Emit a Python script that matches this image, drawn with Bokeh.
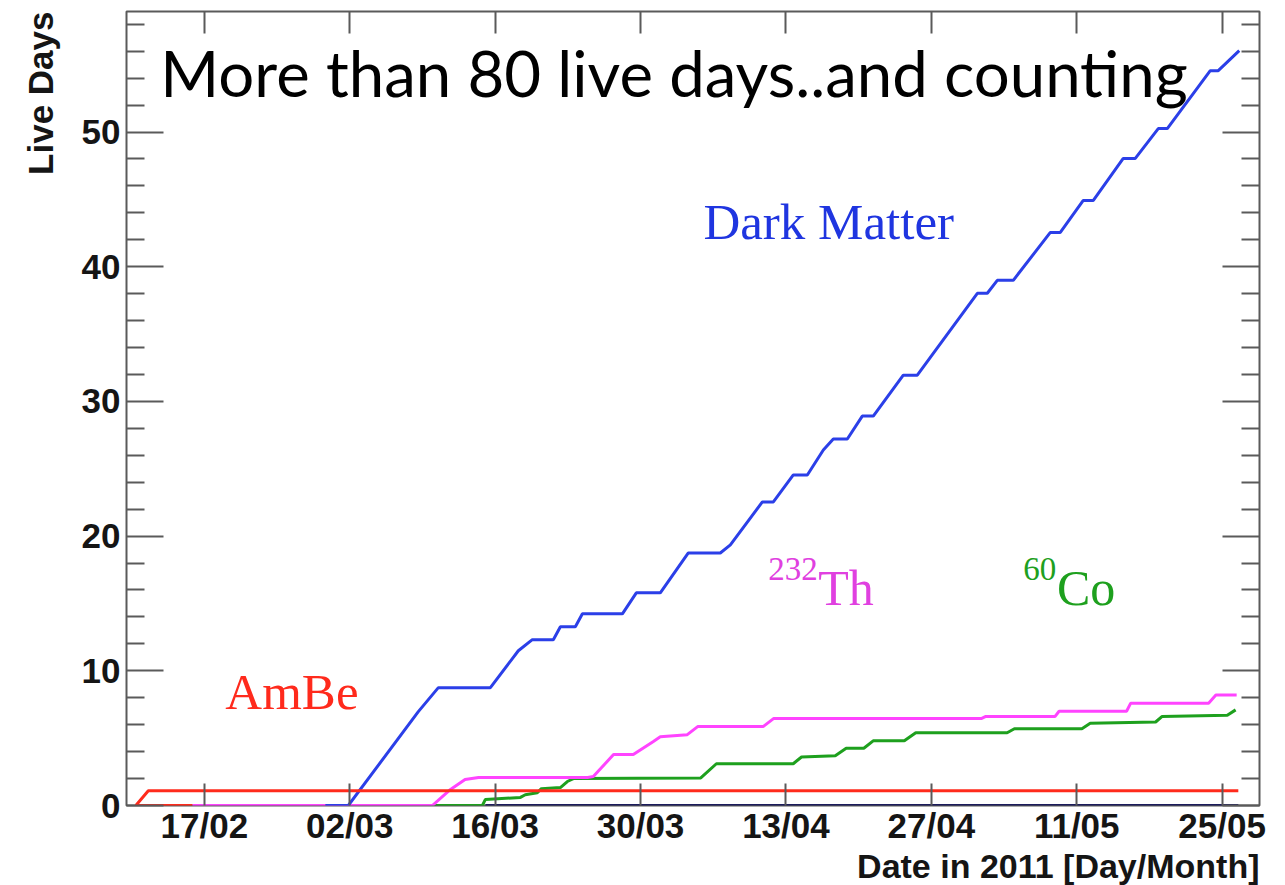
import math
from bokeh.plotting import figure
from bokeh.models import (Range1d, FixedTicker, LinearAxis, Label, Title,
                          CustomLabelingPolicy)
from bokeh.embed import file_html
from bokeh.resources import INLINE

# ---- axis ticks (days counted from the 17/02/2011 tick) ----
tick_days = [0, 14, 28, 42, 56, 70, 84, 98]
tick_labels = ["17/02", "02/03", "16/03", "30/03", "13/04", "27/04", "11/05", "25/05"]
y_major = [0, 10, 20, 30, 40, 50]
y_minor = [2, 4, 6, 8, 12, 14, 16, 18, 22, 24, 26, 28, 32, 34, 36, 38,
           42, 44, 46, 48, 52, 54, 56, 58]

# ---- series (day, cumulative live days) ----
dm_days = [11.65, 13.86, 20.6, 22.53, 27.54, 30.23, 31.58, 33.60, 34.28, 35.72,
           36.40, 40.25, 41.59, 43.90, 46.60, 49.68, 50.65, 53.73, 54.79, 56.71,
           58.06, 59.60, 60.56, 61.91, 63.35, 64.41, 67.30, 68.65, 74.43, 75.39,
           76.35, 77.89, 81.46, 82.42, 84.63, 85.60, 88.48, 89.64, 91.85, 92.72,
           96.86, 97.63, 99.65]
dm_live = [0, 0, 6.97, 8.75, 8.75, 11.49, 12.31, 12.31, 13.27, 13.27,
           14.23, 14.23, 15.79, 15.79, 18.75, 18.75, 19.35, 22.54, 22.54, 24.54,
           24.54, 26.39, 27.21, 27.21, 28.91, 28.91, 31.95, 31.95, 38.03, 38.03,
           38.99, 38.99, 42.55, 42.55, 44.92, 44.92, 48.04, 48.04, 50.26, 50.26,
           54.56, 54.56, 56.04]

th_days = [-1.16, 21.95, 23.7, 25.1, 26.4, 36.9, 37.45, 39.4, 41.3, 43.2, 43.9,
           46.5, 47.5, 53.8, 54.8, 74.8, 75.2, 81.9, 82.3, 88.8, 89.2, 96.7,
           97.4, 99.4]
th_live = [0, 0, 1.19, 1.93, 2.08, 2.08, 2.15, 3.78, 3.78, 4.74, 5.1,
           5.26, 5.86, 5.86, 6.45, 6.45, 6.6, 6.6, 7.0, 7.0, 7.6, 7.6,
           8.2, 8.2]

co_days = [21.95, 26.77, 27.06, 30.43, 30.9, 32.06, 32.45, 34.28, 34.95, 35.53,
           47.8, 49.3, 56.7, 57.5, 60.75, 61.8, 63.5, 64.4, 67.4, 68.5,
           77.3, 78.0, 84.5, 85.3, 91.6, 92.2, 98.5, 99.3]
co_live = [0, 0, 0.45, 0.6, 0.8, 0.95, 1.25, 1.33, 1.78, 2.0,
           2.05, 3.1, 3.1, 3.6, 3.7, 4.25, 4.25, 4.8, 4.8, 5.4,
           5.4, 5.7, 5.7, 6.1, 6.2, 6.6, 6.7, 7.1]

ambe_days = [-6.6, -5.4, 99.56]
ambe_live = [0, 1.1, 1.1]
ambe_start_days = [-6.6, -1.16]
ambe_start_live = [0, 0]

other_days = [27.06, 99.56]
other_live = [0, 0]

BLUE = "#2b3fe8"
MAGENTA = "#ff44ff"
GREEN = "#1ea01e"
RED = "#ff2b1c"
NAVY = "#1c1c5c"
FRAME = "#5a5a5a"
INK = "#151515"

p = figure(width=1285, height=885,
           x_range=Range1d(-7.5, 101.6), y_range=Range1d(0, 58.95),
           output_backend="svg", toolbar_location=None,
           x_axis_location="below", y_axis_location="left")
p.min_border_left = 126
p.min_border_right = 26
p.min_border_top = 11
p.min_border_bottom = 0
p.background_fill_color = "white"
p.border_fill_color = "white"
p.outline_line_color = FRAME
p.outline_line_width = 2
p.xgrid.visible = False
p.ygrid.visible = False

xt = FixedTicker(ticks=tick_days, minor_ticks=[])
yt = FixedTicker(ticks=y_major, minor_ticks=y_minor)

no_labels = CustomLabelingPolicy(code="""
    for (const i of indices) {
        indices.unset(i)
    }
    return indices
""")

def style_axis(ax, ticker, tin, min_in, labels=True):
    ax.ticker = ticker
    ax.axis_line_color = None
    ax.major_tick_in = tin
    ax.major_tick_out = 0
    ax.minor_tick_in = min_in
    ax.minor_tick_out = 0
    ax.major_tick_line_color = FRAME
    ax.major_tick_line_width = 2
    ax.minor_tick_line_color = FRAME
    ax.minor_tick_line_width = 2
    if labels:
        ax.major_label_text_font = "Liberation Sans"
        ax.major_label_text_font_style = "bold"
        ax.major_label_text_font_size = "35px"
        ax.major_label_text_color = INK
    else:
        ax.major_label_policy = no_labels
        ax.major_label_text_font_size = "1px"
        ax.major_label_standoff = 0

xa = p.xaxis[0]
style_axis(xa, xt, 22, 0)
xa.major_label_overrides = {d: s for d, s in zip(tick_days, tick_labels)}
xa.major_label_standoff = 0

ya = p.yaxis[0]
style_axis(ya, yt, 37, 18)
ya.major_label_standoff = 6

top = LinearAxis()
style_axis(top, xt, 22, 0, labels=False)
p.add_layout(top, "above")
right = LinearAxis()
style_axis(right, yt, 37, 18, labels=False)
p.add_layout(right, "right")

lw = 3
p.line(other_days, other_live, line_color=NAVY, line_width=lw)
p.line(co_days, co_live, line_color=GREEN, line_width=lw)
p.line(th_days, th_live, line_color=MAGENTA, line_width=lw)
p.line(dm_days, dm_live, line_color=BLUE, line_width=lw)
p.line(ambe_start_days, ambe_start_live, line_color=RED, line_width=lw)
p.line(ambe_days, ambe_live, line_color=RED, line_width=lw)

def lab(x, y, text, color, size, font="Liberation Serif", **kw):
    p.add_layout(Label(x=x, y=y, text=text, text_color=color,
                       text_font=font, text_font_size=size,
                       text_baseline="alphabetic", **kw))

lab(48.05, 43.3, "Dark Matter", "#1f35e0", "51px")
lab(2.02, 8.45, "AmBe", "#ff2a1c", "51px")
lab(54.3, 17.57, "232", "#e040e0", "33px")
lab(59.1, 16.16, "Th", "#e040e0", "50px")
lab(78.85, 17.57, "60", GREEN, "33px")
lab(82.1, 16.16, "Co", GREEN, "50px")

# overlay headline
lab(-4.24, 54.4, "More than 80 live days..and counting", "#000000", "63.5px",
    font="Lato")

# axis titles (ROOT style: right/top aligned)
x_title = Title(text="Date in 2011 [Day/Month]", align="right",
                vertical_align="top",
                text_font="Liberation Sans", text_font_style="bold",
                text_font_size="34px", text_color=INK, standoff=0)
try:
    x_title.standoff = -2
except Exception:
    x_title.standoff = 0
p.add_layout(x_title, "below")
y_title = Title(text="Live Days", align="right",
                text_font="Liberation Sans", text_font_style="bold",
                text_font_size="35px", text_color=INK, standoff=37)
p.add_layout(y_title, "left")

open("out.html", "w").write(file_html(p, INLINE))
